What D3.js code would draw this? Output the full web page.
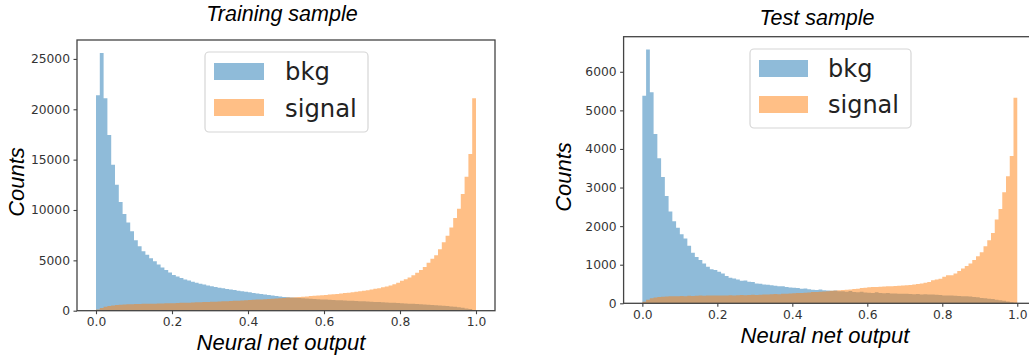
<!DOCTYPE html>
<html><head><meta charset="utf-8">
<script src="https://cdn.jsdelivr.net/npm/d3@7"></script>
<style>html,body{margin:0;padding:0;background:#fff;} svg{display:block;}</style>
</head><body>
<script>
// ---------- data (100 bins over [0,1]) ----------
const trainBkg = [
 21400,25600,21100,17450,14500,12500,10800,9600,8750,7900,
 7000,6400,5900,5550,5200,4900,4600,4300,4050,3800,
 3550,3400,3250,3100,3000,2880,2780,2680,2600,2500,
 2420,2350,2280,2220,2160,2100,2050,1990,1930,1880,
 1820,1760,1700,1650,1610,1560,1500,1460,1410,1370,
 1340,1300,1280,1250,1230,1200,1190,1160,1140,1120,
 1100,1080,1060,1050,1030,1010,1000,980,960,950,
 930,910,890,870,860,840,820,800,780,760,
 740,720,700,680,660,640,620,590,570,550,
 520,490,460,420,380,340,290,230,160,70];
const trainSignal = [
 130,260,380,460,520,570,600,620,640,650,
 660,670,680,690,700,700,710,720,730,740,
 750,760,780,790,800,810,830,840,860,870,
 890,900,920,930,950,960,980,1000,1020,1040,
 1060,1080,1100,1120,1140,1160,1190,1210,1240,1270,
 1300,1320,1340,1370,1390,1420,1450,1480,1510,1540,
 1570,1600,1640,1670,1710,1750,1790,1830,1880,1930,
 1980,2040,2100,2170,2240,2320,2400,2500,2620,2780,
 2970,3130,3300,3530,3760,4030,4350,4750,5150,5500,
 6100,6800,7450,8250,9200,10130,11600,13300,15570,21100];
const testBkg = [
 5380,6580,5470,4390,3760,3270,2780,2380,2125,1960,
 1790,1680,1490,1310,1200,1120,1030,950,880,860,
 820,775,705,660,645,620,585,590,560,550,
 515,505,490,480,470,455,440,445,425,410,
 400,395,380,385,365,350,345,355,335,330,
 325,330,315,310,300,320,295,285,300,280,
 275,270,285,265,260,270,255,255,245,250,
 245,240,235,240,230,235,225,230,220,215,
 205,200,200,195,190,185,180,175,165,155,
 140,130,120,110,95,80,65,45,30,12];
const testSignal = [
 40,90,130,150,165,170,175,180,185,185,
 190,185,195,190,195,200,195,200,205,200,
 200,205,200,210,205,210,215,210,215,220,
 215,220,225,230,235,240,235,245,250,255,
 260,265,270,275,280,290,295,300,305,315,
 325,330,335,345,350,360,370,380,395,405,
 415,420,425,430,435,440,445,450,455,460,
 465,475,490,500,515,535,550,600,620,635,
 690,725,730,775,835,900,965,1030,1120,1220,
 1325,1480,1635,1825,2170,2445,2875,3290,3820,5330];
const xTicks = [0, 0.2, 0.4, 0.6, 0.8, 1.0];
const trainYTicks = [0, 5000, 10000, 15000, 20000, 25000];
const testYTicks = [0, 1000, 2000, 3000, 4000, 5000, 6000];
const seriesNames = ["bkg", "signal"];
const titles = ["Training sample", "Test sample"];
const xLabel = "Neural net output";
const yLabel = "Counts";

// ---------- drawing ----------
const W = 1029, H = 361;
const colors = ["rgb(31,119,180)", "rgb(255,127,14)"];
const svg = d3.select("body").append("svg").attr("width", W).attr("height", H);

const panels = [
  { series:[trainBkg, trainSignal], yTicks:trainYTicks, title:titles[0],
    left:77, right:495, top:40, bottom:310.7,
    titleX:282, titleY:21, xlabX:281, xlabY:350, ylabX:24, ylabY:182,
    tickFs:12.3, legend:{x:205, y:52, w:163, h:80, px:214, pw:50, ph:17, p1:63, p2:99, tx:285, t1:80, t2:116.5, fs:24.3} },
  { series:[testBkg, testSignal], yTicks:testYTicks, title:titles[1],
    left:623.6, right:1036, top:36.7, bottom:303.3,
    titleX:817, titleY:25, xlabX:825, xlabY:343, ylabX:571, ylabY:177,
    tickFs:12.3, legend:{x:750, y:49, w:161, h:79, px:759, pw:49, ph:17, p1:60, p2:96, tx:828, t1:76.7, t2:112.7, fs:24} }
];

panels.forEach(p => {
  const g = svg.append("g");
  const x = d3.scaleLinear().domain([-0.05, 1.05]).range([p.left, p.right]);
  const ymax = d3.max(p.series.flat()) * 1.05;
  const y = d3.scaleLinear().domain([0, ymax]).range([p.bottom, p.top]);
  const n = p.series[0].length;

  p.series.forEach((vals, si) => {
    const pts = [[x(0), y(0)]];
    vals.forEach((v, i) => {
      pts.push([x(i / n), y(v)]);
      pts.push([x((i + 1) / n), y(v)]);
    });
    pts.push([x(1), y(0)]);
    g.append("path")
      .attr("d", d3.line()(pts) + "Z")
      .attr("fill", colors[si]).attr("fill-opacity", 0.5).attr("stroke", "none");
  });

  // frame
  g.append("rect").attr("x", p.left).attr("y", p.top)
    .attr("width", p.right - p.left).attr("height", p.bottom - p.top)
    .attr("fill", "none").attr("stroke", "#444").attr("stroke-width", 1.3);

  // axes
  const xAxis = d3.axisBottom(x).tickValues(xTicks).tickFormat(d3.format(".1f")).tickSizeOuter(0).tickSize(3.5).tickPadding(3.5);
  const yAxis = d3.axisLeft(y).tickValues(p.yTicks).tickFormat(d3.format("d")).tickSizeOuter(0).tickSize(3.5).tickPadding(3.5);
  const gx = g.append("g").attr("transform", `translate(0,${p.bottom})`).call(xAxis);
  const gy = g.append("g").attr("transform", `translate(${p.left},0)`).call(yAxis);
  [gx, gy].forEach(a => {
    a.select(".domain").remove();
    a.selectAll("line").attr("stroke", "#444").attr("stroke-width", 1.1);
    a.selectAll("text").attr("fill", "#333").style("font-family", "DejaVu Sans").style("font-size", p.tickFs + "px");
  });

  // titles & labels
  g.append("text").attr("x", p.titleX).attr("y", p.titleY).attr("text-anchor", "middle")
    .style("font-family", "Liberation Sans").style("font-style", "italic").style("font-size", "21.5px")
    .attr("fill", "#000").text(p.title);
  g.append("text").attr("x", p.xlabX).attr("y", p.xlabY).attr("text-anchor", "middle")
    .style("font-family", "Liberation Sans").style("font-style", "italic").style("font-size", "22px")
    .attr("fill", "#000").text(xLabel);
  g.append("text").attr("transform", `translate(${p.ylabX},${p.ylabY}) rotate(-90)`).attr("text-anchor", "middle")
    .style("font-family", "Liberation Sans").style("font-style", "italic").style("font-size", "22px")
    .attr("fill", "#000").text(yLabel);

  // legend
  const L = p.legend;
  g.append("rect").attr("x", L.x).attr("y", L.y).attr("width", L.w).attr("height", L.h)
    .attr("rx", 4).attr("fill", "#fff").attr("fill-opacity", 0.8)
    .attr("stroke", "#d6d6d6").attr("stroke-width", 1.2);
  [[L.p1, L.t1], [L.p2, L.t2]].forEach(([py, ty], si) => {
    g.append("rect").attr("x", L.px).attr("y", py).attr("width", L.pw).attr("height", L.ph)
      .attr("fill", colors[si]).attr("fill-opacity", 0.5);
    g.append("text").attr("x", L.tx).attr("y", ty)
      .style("font-family", "DejaVu Sans").style("font-size", L.fs + "px")
      .attr("fill", "#222").text(seriesNames[si]);
  });
});
</script>
</body></html>
